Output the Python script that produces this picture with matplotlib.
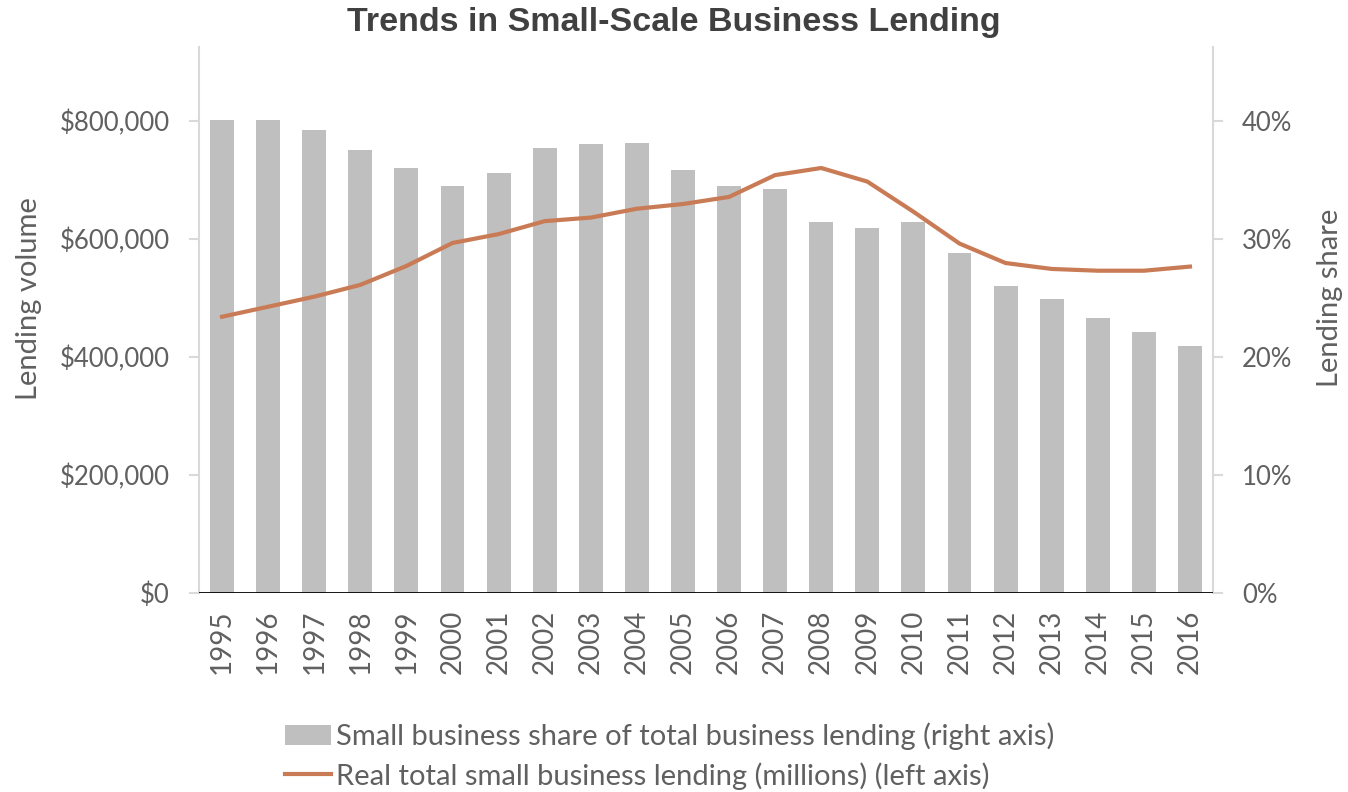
import matplotlib
matplotlib.use("Agg")
import matplotlib.pyplot as plt
from matplotlib.ticker import FuncFormatter, MultipleLocator
import numpy as np

years = [str(y) for y in range(1995, 2017)]
share_pct = [40.1, 40.1, 39.2, 37.5, 36.0, 34.5, 35.6, 37.7, 38.0, 38.1, 35.8,
             34.5, 34.2, 31.4, 30.9, 31.4, 28.8, 26.0, 24.9, 23.3, 22.1, 20.9]
lending_volume = [468000, 485000, 502000, 522000, 554000, 593000, 608000, 630000,
                  636000, 651000, 659000, 671000, 708000, 720000, 697000, 646000,
                  592000, 559000, 549000, 546000, 546000, 553000]

font = "Lato"
weight = "normal"
tick_color = "#606060"
bar_color = "#bfbfbf"
line_color = "#c97b55"

fig = plt.figure(figsize=(13.48, 7.92), dpi=100)
ax = fig.add_axes([199/1348, 1 - 593/792, (1213-199)/1348, (593-47)/792])
ax2 = ax.twinx()

x = np.arange(len(years))
ax2.bar(x, share_pct, width=0.52, color=bar_color, zorder=1,
        label="Small business share of total business lending (right axis)")
ax.plot(x, lending_volume, color=line_color, lw=3, zorder=3,
        label="Real total small business lending (millions) (left axis)")
ax.set_zorder(ax2.get_zorder() + 1)
ax.patch.set_visible(False)

ax.set_xlim(-0.5, len(years) - 0.5)
ax.set_ylim(0, 925000)
ax2.set_ylim(0, 46.25)
ax.yaxis.set_major_locator(MultipleLocator(200000))
ax2.yaxis.set_major_locator(MultipleLocator(10))
ax.yaxis.set_major_formatter(FuncFormatter(lambda v, p: "${:,.0f}".format(v)))
ax2.yaxis.set_major_formatter(FuncFormatter(lambda v, p: "{:.0f}%".format(v)))

ax.set_xticks(x)
ax.set_xticklabels(years, rotation=90, fontsize=20, color=tick_color,
                   family=font, fontweight=weight)
for a in (ax, ax2):
    for s in a.spines.values():
        s.set_visible(False)
ax.spines["left"].set_visible(True)
ax.spines["left"].set_color("#d9d9d9")
ax.spines["left"].set_linewidth(1.5)
ax2.spines["right"].set_visible(True)
ax2.spines["right"].set_color("#d9d9d9")
ax2.spines["right"].set_linewidth(1.5)
ax.axhline(0, color="black", lw=2, zorder=5)

ax.tick_params(axis="x", length=0, pad=12)
ax.tick_params(axis="y", length=7, width=1.5, color="#d9d9d9", pad=14)
ax2.tick_params(axis="y", length=7, width=1.5, color="#d9d9d9", pad=14)
for lab in ax.get_yticklabels() + ax2.get_yticklabels():
    lab.set_fontsize(18.5)
    lab.set_color(tick_color)
    lab.set_family(font)
    lab.set_fontweight(weight)

ax.set_ylabel("Lending volume", fontsize=21, color=tick_color, family=font,
              fontweight=weight)
ax2.set_ylabel("Lending share", fontsize=21, color=tick_color, family=font,
               fontweight=weight)
ax.yaxis.set_label_coords(-0.155, 0.54)
ax2.yaxis.set_label_coords(1.103, 0.54)

fig.text(0.5, 1 - 23/792, "Trends in Small-Scale Business Lending", ha="center",
         va="center", fontsize=24.5, fontweight="bold", color="#404040",
         family="Liberation Sans")

h1, l1 = ax2.get_legend_handles_labels()
h2, l2 = ax.get_legend_handles_labels()
leg = fig.legend(h1 + h2, l1 + l2, loc="upper left",
                 bbox_to_anchor=(273/1348, 1 - 711/792), frameon=False,
                 prop={"family": font, "size": 21, "weight": weight},
                 labelcolor=tick_color, handlelength=1.6, handletextpad=0.15,
                 labelspacing=0.4, borderaxespad=0)

fig.savefig("out.png", dpi=100)
